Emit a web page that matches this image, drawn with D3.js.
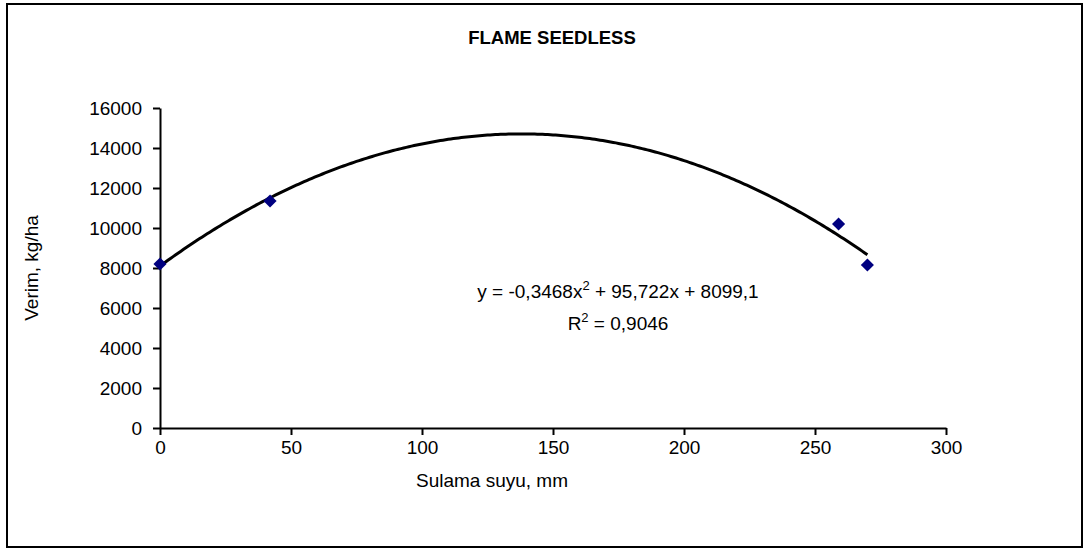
<!DOCTYPE html>
<html>
<head>
<meta charset="utf-8">
<script src="https://cdn.jsdelivr.net/npm/d3@7"></script>
<style>
  body { margin: 0; background: #fff; }
  svg { display: block; font-family: Arial, "Liberation Sans", sans-serif; }
</style>
</head>
<body>
<svg id="chart"></svg>
<script>
// data
const sulamaSuyu = [0, 42, 259, 270]        // mm
const verim = [8200, 11350, 10200, 8150]     // kg/ha
const xTicks = [0, 50, 100, 150, 200, 250, 300]
const yTicks = [0, 2000, 4000, 6000, 8000, 10000, 12000, 14000, 16000]
// polynomial trendline as printed on the chart: c0 + c1*x + c2*x^2
const trendCoef = [8099.1, 95.722, -0.3468]
const trendR2 = "0,9046"

const dataset = sulamaSuyu.map((x, i) => ({ x: x, y: verim[i] }))
const xAccessor = d => d.x
const yAccessor = d => d.y

// 2. chart dimensions
let dimensions = {
  width: 1091,
  height: 551,
  margin: { top: 108, right: 145, bottom: 123, left: 160 },
}
dimensions.boundedWidth = dimensions.width - dimensions.margin.left - dimensions.margin.right
dimensions.boundedHeight = dimensions.height - dimensions.margin.top - dimensions.margin.bottom

// 3. canvas
const svg = d3.select("#chart")
  .attr("width", dimensions.width)
  .attr("height", dimensions.height)

svg.append("rect")
  .attr("x", 7)
  .attr("y", 4)
  .attr("width", 1075)
  .attr("height", 543)
  .attr("fill", "white")
  .attr("stroke", "black")
  .attr("stroke-width", 2)

const bounds = svg.append("g")
  .attr("transform", `translate(${dimensions.margin.left}, ${dimensions.margin.top})`)

// 4. scales
const xScale = d3.scaleLinear()
  .domain([0, 300])
  .range([0, dimensions.boundedWidth])

const yScale = d3.scaleLinear()
  .domain([0, 16000])
  .range([dimensions.boundedHeight, 0])

// 6. peripherals first so marks sit on top
const xAxis = bounds.append("g")
  .attr("transform", `translate(0, ${dimensions.boundedHeight})`)
  .call(d3.axisBottom(xScale).tickValues(xTicks).tickFormat(d3.format("d"))
    .tickSize(7).tickPadding(6).tickSizeOuter(0))

const yAxis = bounds.append("g")
  .call(d3.axisLeft(yScale).tickValues(yTicks).tickFormat(d3.format("d"))
    .tickSize(7).tickPadding(11).tickSizeOuter(0))

bounds.selectAll(".domain, .tick line")
  .attr("stroke", "black")
  .attr("stroke-width", 2)

bounds.selectAll(".tick text")
  .attr("fill", "black")
  .style("font-size", "19px")
  .style("font-family", "Arial, 'Liberation Sans', sans-serif")

svg.append("text")
  .attr("x", 552)
  .attr("y", 44)
  .attr("text-anchor", "middle")
  .style("font-size", "18.5px")
  .style("font-weight", "bold")
  .text("FLAME SEEDLESS")

svg.append("text")
  .attr("x", 492)
  .attr("y", 487)
  .attr("text-anchor", "middle")
  .style("font-size", "19px")
  .text("Sulama suyu, mm")

svg.append("text")
  .attr("transform", `translate(38, ${dimensions.margin.top + dimensions.boundedHeight / 2}) rotate(-90)`)
  .attr("text-anchor", "middle")
  .style("font-size", "19px")
  .text("Verim, kg/ha")

// 5. trendline + data
const trend = x => trendCoef[0] + trendCoef[1] * x + trendCoef[2] * x * x
const xMax = d3.max(dataset, xAccessor)
const trendPts = d3.range(0, xMax + 0.5, 1).map(x => ({ x: x, y: trend(x) }))

const lineGenerator = d3.line()
  .x(d => xScale(d.x))
  .y(d => yScale(d.y))

bounds.append("path")
  .datum(trendPts)
  .attr("d", lineGenerator)
  .attr("fill", "none")
  .attr("stroke", "black")
  .attr("stroke-width", 3)

bounds.selectAll(".dot")
  .data(dataset)
  .enter().append("path")
  .attr("class", "dot")
  .attr("d", d3.symbol().type(d3.symbolDiamond2).size(110))
  .attr("transform", d => `translate(${xScale(xAccessor(d))}, ${yScale(yAccessor(d))})`)
  .attr("fill", "#000080")

// equation label
const eq = svg.append("text")
  .attr("x", 618)
  .attr("y", 298)
  .attr("text-anchor", "middle")
  .style("font-size", "19px")
eq.append("tspan").text("y = -" + String(-trendCoef[2]).replace(".", ",") + "x")
eq.append("tspan").attr("dy", -8).style("font-size", "13px").text("2")
eq.append("tspan").attr("dy", 8).text(" + " + String(trendCoef[1]).replace(".", ",") + "x + " + String(trendCoef[0]).replace(".", ","))

const r2 = svg.append("text")
  .attr("x", 618)
  .attr("y", 330)
  .attr("text-anchor", "middle")
  .style("font-size", "19px")
r2.append("tspan").text("R")
r2.append("tspan").attr("dy", -8).style("font-size", "13px").text("2")
r2.append("tspan").attr("dy", 8).text(" = " + trendR2)
</script>
</body>
</html>
